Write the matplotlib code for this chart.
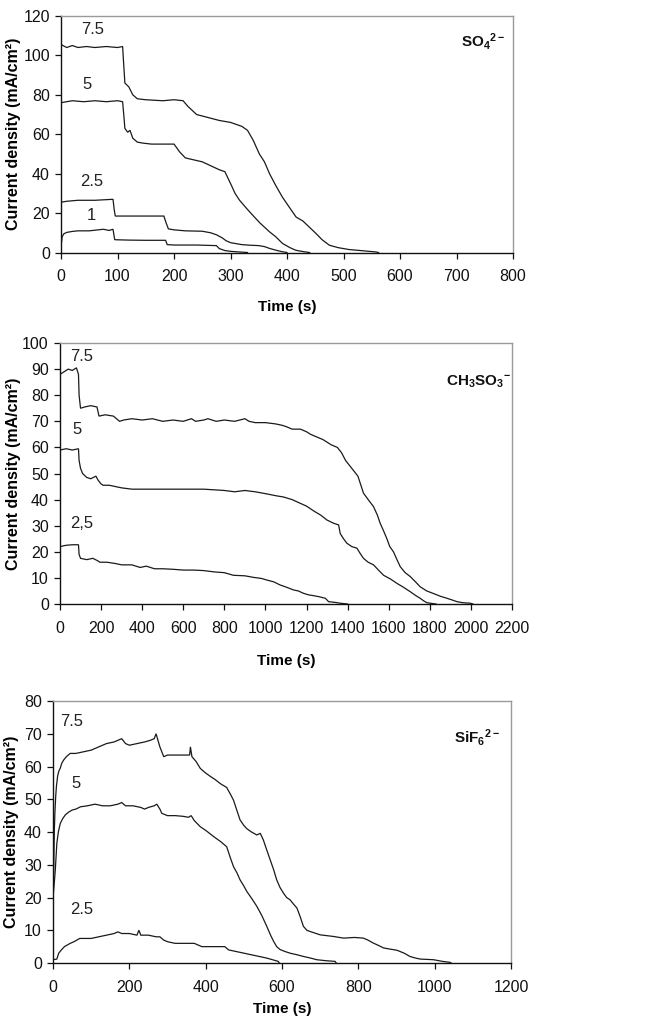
import matplotlib
matplotlib.use("Agg")
import matplotlib.pyplot as plt
from matplotlib.ticker import MultipleLocator

# ---------------- data: current density (mA/cm2) vs time (s) ----------------
# SO4 2- electrolyte
so4_t75 = [0, 10, 20, 30, 45, 60, 80, 100, 109, 111, 113, 120, 127, 135, 150, 180, 200, 216, 225, 240,
           260, 280, 300, 320, 330, 340, 351, 360, 369, 380, 392, 404, 416, 428, 439, 450, 462, 475, 490, 510,
           530, 545, 557, 562]
so4_j75 = [105.5, 104, 105, 104, 104.5, 104, 104.5, 104, 104.5, 95, 86, 84, 80, 78, 77.5, 77, 77.5, 77, 74, 70,
           68.5, 67, 66, 64, 62, 57, 50, 46, 40, 34, 28, 23, 18, 16, 13, 10, 6.5, 3.7, 2.5, 1.5,
           1, 0.6, 0.3, 0]
so4_t5 = [0, 20, 40, 60, 80, 100, 109, 111, 113, 118, 122, 127, 135, 145, 160, 180, 200, 210, 220, 235,
          250, 265, 280, 290, 300, 308, 316, 328, 339, 352, 369, 380, 392, 405, 415, 422, 430, 440]
so4_j5 = [76, 77, 76.5, 77, 76.5, 77, 76.5, 70, 63, 61, 62, 58, 56, 55.5, 55, 55, 55, 51, 48, 47,
          46, 44, 42, 41, 35, 30, 26.5, 22.5, 19, 15, 10.5, 8, 4.6, 2.5, 1.2, 0.8, 0.4, 0]
so4_t25 = [0, 10, 30, 60, 92, 94, 96, 120, 150, 182, 186, 190, 200, 220, 250, 265, 275, 285, 292, 300,
           310, 320, 335, 350, 360, 370, 380, 390, 400]
so4_j25 = [25.5, 26, 26.5, 26.5, 27, 22, 18.5, 18.5, 18.5, 18.5, 15, 12, 11.5, 11, 10.8, 10, 9, 7.5, 6, 5,
           4.5, 4, 3.7, 3.5, 3, 2, 1.2, 0.5, 0]
so4_t1 = [0, 2, 5, 10, 20, 30, 50, 75, 85, 92, 95, 120, 150, 185, 188, 200, 240, 275, 280, 290,
          300, 315, 330]
so4_j1 = [3, 8, 9.5, 10.2, 10.7, 11, 11, 11.8, 11.2, 11.8, 6.5, 6.3, 6.2, 6.2, 4, 3.8, 3.8, 3.5, 2, 1,
          0.6, 0.3, 0]

# CH3SO3- electrolyte
ch_t75 = [0, 20, 40, 60, 80, 90, 93, 100, 120, 150, 180, 190, 220, 260, 290, 310, 350, 400, 450, 500,
          550, 600, 640, 660, 700, 720, 760, 800, 850, 900, 920, 950, 1000, 1050, 1080, 1100, 1130, 1170, 1200, 1220,
          1250, 1280, 1300, 1320, 1350, 1370, 1390, 1420, 1450, 1477, 1500, 1526, 1545, 1558, 1575, 1591, 1605, 1623,
          1640, 1656, 1680, 1705, 1730, 1753, 1785, 1818, 1850, 1883, 1910, 1932, 1960, 1997, 2010]
ch_j75 = [88, 89, 90, 89.5, 90.5, 88, 80, 75, 75.5, 76, 75.5, 72, 72.5, 72, 70, 70.5, 71, 70.5, 71, 70,
          70.5, 70, 71, 70, 70.5, 71, 70, 70.5, 70, 71, 70, 69.5, 69.5, 69, 68.5, 68, 67, 67, 66, 65,
          64, 63, 62, 61, 60, 58, 55, 52, 49, 42.5, 40, 37.3, 34, 31, 28, 25, 22, 20,
          17, 14.3, 12, 10.5, 8.5, 6.6, 5, 4, 3, 2.2, 1.5, 0.9, 0.5, 0.3, 0]
ch_t5 = [0, 30, 60, 90, 93, 100, 110, 130, 150, 175, 185, 200, 210, 240, 270, 300, 350, 400, 500, 600,
         700, 800, 850, 900, 950, 1006, 1050, 1088, 1130, 1169, 1200, 1234, 1270, 1299, 1330, 1356, 1364, 1380,
         1396, 1420, 1445, 1460, 1477, 1500, 1526, 1550, 1575, 1610, 1640, 1670, 1705, 1730, 1753, 1770, 1786,
         1810, 1830]
ch_j5 = [59, 59.5, 59, 59.5, 55, 52, 50, 48.5, 48, 49, 47.5, 46, 45.5, 45.5, 45, 44.5, 44, 44, 44, 44,
         44, 43.5, 43, 43.5, 43, 42.2, 41.5, 41, 40, 38.6, 37.5, 35.7, 34, 32.2, 31, 30.3, 27, 25,
         23.3, 22, 21.4, 19.5, 17.5, 16, 15, 13, 11, 9.5, 7.9, 6.5, 4.7, 3.3, 2.2, 1.2, 0.5,
         0.2, 0]
ch_t25 = [0, 30, 60, 90, 93, 100, 130, 160, 185, 195, 230, 270, 300, 350, 390, 420, 440, 460, 500, 550,
          600, 650, 700, 750, 800, 844, 900, 942, 980, 1006, 1040, 1071, 1100, 1136, 1160, 1185, 1210, 1234,
          1260, 1291, 1300, 1307, 1340, 1364, 1400]
ch_j25 = [22, 22.5, 22.7, 22.7, 19, 17.5, 17, 17.5, 16.5, 16, 16, 15.5, 15, 15, 14, 14.5, 14, 13.5, 13.5, 13.3,
          13, 13, 12.8, 12.3, 12, 11, 10.8, 10.2, 9.8, 9.2, 8.5, 7.3, 6.5, 5.4, 5, 4.1, 3.5, 3.2,
          2.8, 2.2, 1.5, 0.9, 0.6, 0.3, 0]

# SiF6 2- electrolyte
si_t75 = [0, 2, 3.5, 5, 7, 9, 12, 15, 19, 23, 28, 35, 45, 60, 80, 100, 120, 140, 160, 180,
          190, 200, 220, 240, 255, 265, 270, 275, 280, 285, 290, 300, 320, 340, 358, 360, 364, 375, 386, 400,
          412, 425, 438, 455, 465, 473, 482, 490, 500, 508, 520, 534, 543, 551, 560, 569, 578, 586, 595, 604,
          612, 621, 630, 639, 648, 656, 665, 674, 700, 735, 761, 790, 813, 825, 839, 852, 866, 885, 901, 920,
          935, 950, 962, 997, 1020, 1040, 1043]
si_j75 = [18, 30, 40.6, 46, 50.8, 54, 57, 58.5, 59.5, 61, 62, 63, 64, 64, 64.5, 65, 66, 67, 67.5, 68.5,
          67, 66.5, 67, 67.5, 68, 68.5, 70, 68, 66, 64.5, 63, 63.5, 63.5, 63.5, 63.5, 66, 63, 61.5, 59.4, 58,
          57, 56, 54.8, 53.6, 51.5, 49.7, 46.5, 43.7, 42, 41, 40, 39.1, 39.6, 37.6, 34.5, 31.5, 28.5, 25.4, 23, 21.3,
          20, 19.3, 18, 16.8, 14, 11.2, 10, 9.6, 8.6, 8.1, 7.6, 7.8, 7.6, 7, 6.1, 5.4, 4.6, 4.2, 3.9, 3,
          2, 1.5, 1.2, 1, 0.5, 0.2, 0]
si_t5 = [0, 3, 6, 10, 14, 19, 25, 32, 40, 50, 60, 72, 90, 110, 130, 150, 170, 180, 190, 210,
         230, 240, 250, 265, 272, 280, 285, 300, 320, 340, 355, 362, 370, 386, 400, 421, 440, 455, 465, 473,
         482, 490, 500, 508, 520, 534, 547, 560, 570, 578, 586, 595, 608, 621, 640, 656, 675, 691, 715, 739, 742]
si_j5 = [20, 24, 28.4, 36.5, 40, 42.6, 44, 45.2, 46, 46.7, 47, 47.7, 48, 48.5, 48, 48, 48.5, 49, 48, 48,
         47.5, 47, 47.5, 48, 48.5, 47, 45.7, 45, 45, 44.8, 44.5, 45, 43.5, 41.6, 40.5, 38.6, 37, 35.5, 32, 29.4,
         27.5, 25.4, 23.5, 21.8, 19.8, 17.3, 14.5, 11.2, 8.5, 6.6, 5, 4.1, 3.5, 3, 2.5, 2, 1.5, 1, 0.7, 0.5, 0]
si_t25 = [0, 10, 15, 22, 30, 45, 55, 70, 100, 120, 140, 160, 170, 180, 200, 220, 225, 230, 250, 270,
          280, 290, 300, 320, 370, 390, 420, 450, 460, 480, 500, 520, 540, 560, 575, 590, 593]
si_j25 = [1, 1.2, 3, 4, 5, 6, 6.5, 7.5, 7.5, 8, 8.5, 9, 9.5, 9, 9, 8.5, 10, 8.5, 8.5, 8,
          8, 7, 6.5, 6, 6, 5, 5, 5, 4, 3.5, 3, 2.5, 2, 1.5, 1, 0.5, 0]

# ---------------- styling ----------------
plt.rcParams["font.family"] = ["Liberation Sans Narrow", "Liberation Sans", "DejaVu Sans"]
plt.rcParams["mathtext.fontset"] = "custom"
plt.rcParams["mathtext.rm"] = "Liberation Sans"
plt.rcParams["mathtext.bf"] = "Liberation Sans:bold"

LINE = "#1a1a1a"
FRAME = "#999999"
TICK_FS = 11.5
LBL_FS = 11

FIG_W, FIG_H = 652, 1017
fig = plt.figure(figsize=(FIG_W / 100, FIG_H / 100), dpi=100)

panels = [
    dict(rect=[0.0936, 0.7517, 0.6933, 0.2326], xmax=800, xstep=100, ymax=120, ystep=20,
         series=[(so4_t75, so4_j75), (so4_t5, so4_j5), (so4_t25, so4_j25), (so4_t1, so4_j1)],
         labels=[("7.5", 56, 113), ("5", 46, 85), ("2.5", 54, 36), ("1", 54, 19)],
         ion=r"$\mathbf{SO_4{}^{2-}}$", ion_xy=(0.935, 0.89), xlabel_y=-0.2, ylabel_px=21),
    dict(rect=[0.0920, 0.4061, 0.6933, 0.2566], xmax=2200, xstep=200, ymax=100, ystep=10,
         series=[(ch_t75, ch_j75), (ch_t5, ch_j5), (ch_t25, ch_j25)],
         labels=[("7.5", 105, 95), ("5", 84, 67), ("2,5", 105, 31)],
         ion=r"$\mathbf{CH_3SO_3{}^{-}}$", ion_xy=(0.925, 0.85), xlabel_y=-0.19, ylabel_px=21),
    dict(rect=[0.0813, 0.0531, 0.7025, 0.2576], xmax=1200, xstep=200, ymax=80, ystep=10,
         series=[(si_t75, si_j75), (si_t5, si_j5), (si_t25, si_j25)],
         labels=[("7.5", 50, 73.6), ("5", 61, 54.8), ("2.5", 76, 16.2)],
         ion=r"$\mathbf{SiF_6{}^{2-}}$", ion_xy=(0.925, 0.86), xlabel_y=-0.15, ylabel_px=19),
]

for p in panels:
    ax = fig.add_axes(p["rect"])
    for t, j in p["series"]:
        ax.plot(t, j, color=LINE, lw=0.9, solid_joinstyle="miter")
    for txt, x, y in p["labels"]:
        ax.text(x, y, txt, ha="center", va="center", fontsize=12, color="#222222")
    ax.text(*p["ion_xy"], p["ion"], transform=ax.transAxes, ha="center", va="center",
            fontsize=11, color="#111111")

    ax.set_xlim(0, p["xmax"])
    ax.set_ylim(0, p["ymax"])
    ax.xaxis.set_major_locator(MultipleLocator(p["xstep"]))
    ax.yaxis.set_major_locator(MultipleLocator(p["ystep"]))

    for side in ("top", "right"):
        ax.spines[side].set_color(FRAME)
        ax.spines[side].set_linewidth(1.0)
    for side in ("left", "bottom"):
        ax.spines[side].set_color("#111111")
        ax.spines[side].set_linewidth(1.0)

    ax.tick_params(direction="out", length=4, width=0.9, labelsize=TICK_FS,
                   colors="#111111", pad=4)
    ax.tick_params(axis="x", pad=8)

    ax.set_xlabel("Time (s)", fontsize=LBL_FS, fontweight="bold")
    ax.xaxis.set_label_coords(0.5, p["xlabel_y"])
    ax.set_ylabel("Current density (mA/cm²)", fontsize=11.5, fontweight="bold",
                  family="Liberation Sans")
    left_px = p["rect"][0] * FIG_W
    width_px = p["rect"][2] * FIG_W
    ax.yaxis.set_label_coords((p["ylabel_px"] - left_px) / width_px, 0.5)

fig.savefig("out.png", dpi=100, facecolor="white")
